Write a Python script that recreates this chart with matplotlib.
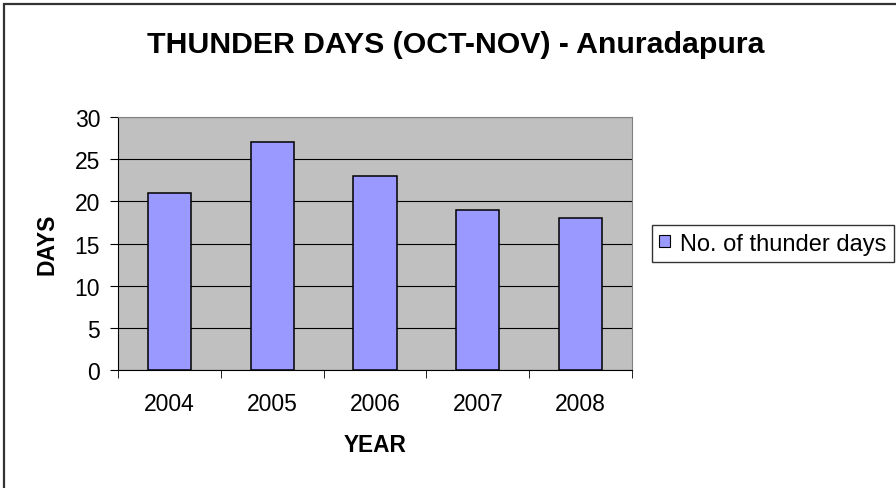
import numpy as np
import matplotlib
matplotlib.use('Agg')
import matplotlib.pyplot as plt
from matplotlib.patches import Rectangle

plt.rcParams['font.family'] = ['Liberation Sans', 'DejaVu Sans']

years = ['2004', '2005', '2006', '2007', '2008']
thunder_days = [21, 27, 23, 19, 18]
title = 'THUNDER DAYS (OCT-NOV) - Anuradapura'
series_name = 'No. of thunder days'

fig = plt.figure(figsize=(8.96, 4.89), dpi=100)
# outer chart border (runs off the right and bottom edges)
fig.patches.append(Rectangle((0.0045, -0.02), 1.1, 0.0098 + 1.0, transform=fig.transFigure,
                             fill=False, edgecolor='#333333', linewidth=1.6))

ax = fig.add_axes([0.1317, 0.2413, 0.5737, 0.5174])
ax.set_facecolor('#c0c0c0')

x = np.arange(len(years))
ax.bar(x, thunder_days, width=0.42, color='#9999ff', edgecolor='black',
       linewidth=1.1, label=series_name, zorder=3)

ax.set_xlim(-0.5, len(years) - 0.5)
ax.set_ylim(0, 30)
ax.set_yticks(range(0, 31, 5))
ax.yaxis.grid(True, color='black', linewidth=0.8, zorder=1)
ax.set_axisbelow(True)

# category labels centered, tick marks on the boundaries
ax.set_xticks(x)
ax.set_xticklabels(years)
ax.tick_params(axis='x', length=0, labelsize=16.5, pad=15.5)
ax.set_xticks(np.arange(-0.5, len(years)), minor=True)
ax.tick_params(axis='x', which='minor', length=5.8, direction='out', color='black')
ax.tick_params(axis='y', length=5.8, direction='out', labelsize=16.5, pad=7)

for side in ['top', 'right']:
    ax.spines[side].set_color('#808080')
for side in ['left', 'bottom']:
    ax.spines[side].set_color('black')

ax.set_xlabel('YEAR', fontsize=16.3, fontweight='bold', labelpad=13)
ax.set_ylabel('DAYS', fontsize=16.5, fontweight='bold', labelpad=11.5)

fig.text(0.509, 1 - 53 / 489, title, ha='center', va='baseline',
         fontsize=21.8, fontweight='bold')

leg = ax.legend(loc='center left', bbox_to_anchor=(1.039, 0.5), borderaxespad=0,
                fontsize=17, frameon=True, fancybox=False, edgecolor='black',
                borderpad=0.3, handlelength=0.45, handleheight=0.45, handletextpad=0.45)
leg.get_frame().set_linewidth(1.0)
for h in leg.legend_handles:
    h.set_linewidth(0.8)

plt.savefig('out.png', dpi=100)
